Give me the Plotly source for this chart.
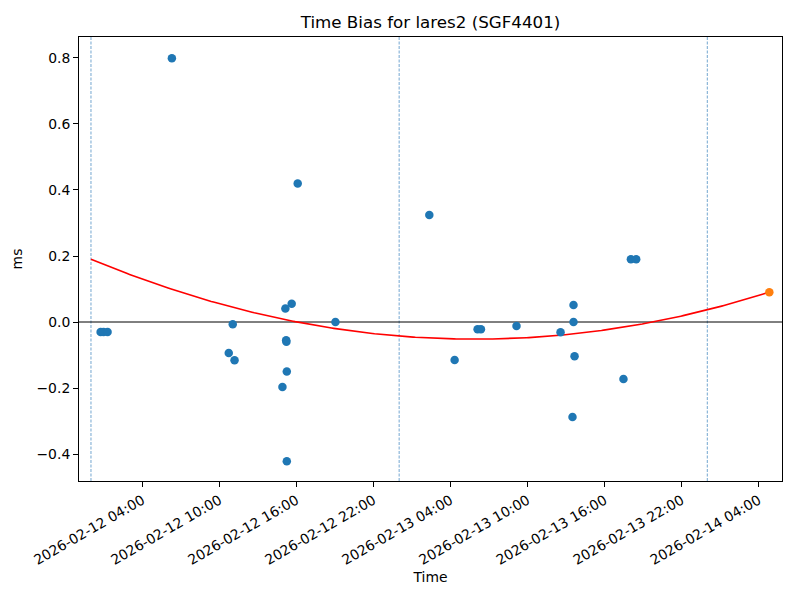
import numpy as np
import pandas as pd
import plotly.graph_objects as go

# ---- data ----
obs_hours = [0.75, 0.98, 1.29, 6.30, 10.73, 11.04, 11.18, 14.91, 15.14, 15.20, 15.22,
             15.25, 15.25, 15.63, 16.10, 19.04, 26.35, 28.32, 30.11, 30.37, 33.14,
             36.57, 37.50, 37.58, 37.58, 37.66, 41.47, 42.05, 42.46]
obs_ms = [-0.030, -0.030, -0.030, 0.799, -0.094, -0.007, -0.116, -0.197, 0.041, -0.055,
          -0.060, -0.150, -0.422, 0.055, 0.420, 0.000, 0.324, -0.115, -0.022, -0.022,
          -0.012, -0.031, -0.288, 0.0515, 0.000, -0.104, -0.173, 0.190, 0.190]
pred_hours = [52.83]
pred_ms = [0.090]
fit_coeffs = [0.000271, -0.016206, 0.19028]   # quadratic in hours since start
fit_range_hours = [0.0, 52.83]
day_lines = ["2026-02-12 00:00", "2026-02-13 00:00", "2026-02-14 00:00"]
x_tick_labels = ["2026-02-12 04:00", "2026-02-12 10:00", "2026-02-12 16:00",
                 "2026-02-12 22:00", "2026-02-13 04:00", "2026-02-13 10:00",
                 "2026-02-13 16:00", "2026-02-13 22:00", "2026-02-14 04:00"]
y_tick_vals = [-0.4, -0.2, 0.0, 0.2, 0.4, 0.6, 0.8]
start = pd.Timestamp("2026-02-12 00:00")
x_range = ["2026-02-11 23:04", "2026-02-14 05:49"]
y_range = [-0.4818, 0.8636]

# ---- build ----
obs_t = [start + pd.Timedelta(hours=h) for h in obs_hours]
pred_t = [start + pd.Timedelta(hours=h) for h in pred_hours]
fh = np.linspace(fit_range_hours[0], fit_range_hours[1], 300)
fit_t = [start + pd.Timedelta(hours=float(h)) for h in fh]
fit_v = np.polyval(fit_coeffs, fh)

font = "DejaVu Sans"
fig = go.Figure()
fig.add_trace(go.Scatter(x=fit_t, y=fit_v, mode="lines",
                         line=dict(color="red", width=1.6), showlegend=False))
fig.add_trace(go.Scatter(x=obs_t, y=obs_ms, mode="markers",
                         marker=dict(color="#1f77b4", size=8.5), showlegend=False))
fig.add_trace(go.Scatter(x=pred_t, y=pred_ms, mode="markers",
                         marker=dict(color="#ff7f0e", size=8.5), showlegend=False))

for d in day_lines:
    fig.add_shape(type="line", x0=d, x1=d, y0=0, y1=1, xref="x", yref="paper",
                  line=dict(color="#4f8fc4", width=0.8, dash="3px,1.5px"),
                  layer="below")
fig.add_shape(type="line", x0=0, x1=1, y0=0, y1=0, xref="paper", yref="y",
              line=dict(color="black", width=1), layer="below")

# page body adds an 8px offset; compensate so the plot area lands at 79..782 x 37..481
W, H = 792, 592
L, R, T, B = 71, 18, 29, 119
tickvals = [pd.Timestamp(t) for t in x_tick_labels]
fig.update_layout(
    width=W, height=H,
    margin=dict(l=L, r=R, t=T, b=B),
    paper_bgcolor="white", plot_bgcolor="white",
    font=dict(family=font, size=13.9, color="black"),
    title=dict(text="Time Bias for lares2 (SGF4401)", x=(L + W - R) / 2 / W, xanchor="center",
               y=1 - 14 / H, yanchor="middle", font=dict(size=16.7)),
)
fig.update_xaxes(range=x_range, tickvals=tickvals, ticktext=x_tick_labels, tickangle=-30,
                 automargin=False,
                 showgrid=False, zeroline=False, showline=True, mirror=True,
                 linecolor="black", linewidth=1, ticks="outside", ticklen=5,
                 tickcolor="black", title=dict(text="Time", standoff=5, font=dict(size=13.9)))
fig.update_yaxes(range=y_range, tickvals=y_tick_vals, automargin=False,
                 ticktext=[("−" if v < 0 else "") + f"{abs(v):.1f}" for v in y_tick_vals],
                 showgrid=False, zeroline=False, showline=True, mirror=True,
                 linecolor="black", linewidth=1, ticks="outside", ticklen=5,
                 tickcolor="black", title=dict(text="ms", standoff=10, font=dict(size=13.9)))

fig.write_html("out.html")
